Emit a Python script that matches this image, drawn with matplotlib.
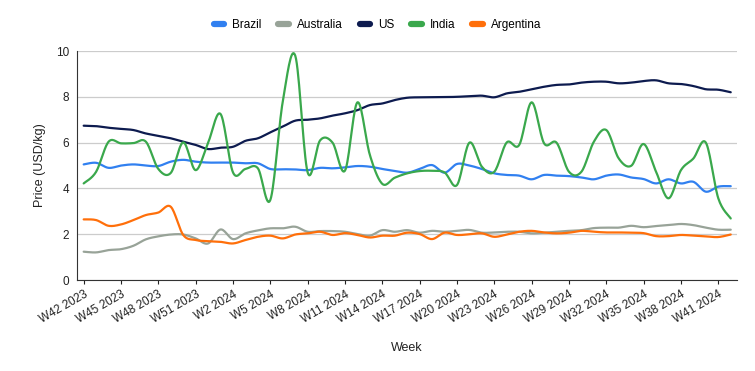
import numpy as np
import matplotlib
matplotlib.use('Agg')
import matplotlib.pyplot as plt
from matplotlib.lines import Line2D

plt.rcParams['font.family'] = ['Liberation Sans', 'DejaVu Sans']

# weekly prices, W42 2023 .. W42 2024
weeks = [f'W{w} 2023' for w in range(42, 53)] + [f'W{w} 2024' for w in range(1, 43)]

brazil = [5.05, 5.12, 4.9, 5.0, 5.05, 5.0, 4.98, 5.17, 5.25, 5.17,
          5.13, 5.13, 5.13, 5.1, 5.1, 4.85, 4.84, 4.83, 4.8, 4.9,
          4.88, 4.92, 4.98, 4.95, 4.85, 4.77, 4.69, 4.85, 5.02, 4.69,
          5.07, 5.0, 4.85, 4.66, 4.59, 4.56, 4.4, 4.59, 4.56, 4.54,
          4.48, 4.4, 4.56, 4.61, 4.48, 4.41, 4.22, 4.4, 4.22, 4.29,
          3.86, 4.08, 4.1]
australia = [1.24, 1.21, 1.31, 1.35, 1.5, 1.78, 1.91, 1.99, 1.99, 1.82,
             1.6, 2.21, 1.79, 2.04, 2.17, 2.26, 2.26, 2.33, 2.11, 2.14,
             2.14, 2.11, 2.01, 1.94, 2.18, 2.11, 2.18, 2.07, 2.15, 2.11,
             2.15, 2.19, 2.07, 2.08, 2.11, 2.11, 2.04, 2.07, 2.11, 2.15,
             2.18, 2.27, 2.29, 2.29, 2.37, 2.31, 2.36, 2.4, 2.45, 2.4,
             2.29, 2.2, 2.2]
us = [6.74, 6.72, 6.65, 6.6, 6.55, 6.4, 6.3, 6.19, 6.04, 5.9,
      5.72, 5.78, 5.82, 6.08, 6.19, 6.45, 6.7, 6.96, 7.0, 7.06,
      7.18, 7.28, 7.42, 7.64, 7.71, 7.86, 7.96, 7.98, 7.99, 7.99,
      8.0, 8.03, 8.05, 7.98, 8.15, 8.22, 8.33, 8.44, 8.52, 8.54,
      8.62, 8.66, 8.66, 8.59, 8.62, 8.69, 8.72, 8.59, 8.56, 8.47,
      8.33, 8.31, 8.2]
india = [4.22, 4.73, 6.04, 5.97, 5.98, 6.04, 4.85, 4.68, 6.01, 4.8,
         6.0, 7.25, 4.7, 4.85, 4.88, 3.5, 7.8, 9.8, 4.7, 6.1,
         6.0, 4.78, 7.76, 5.46, 4.2, 4.47, 4.66, 4.76, 4.77, 4.7,
         4.15, 6.0, 4.95, 4.73, 6.01, 5.9, 7.76, 5.97, 6.0, 4.73,
         4.73, 6.04, 6.55, 5.31, 4.99, 5.94, 4.73, 3.57, 4.8, 5.31,
         6.0, 3.57, 2.69]
argentina = [2.65, 2.62, 2.37, 2.43, 2.62, 2.84, 2.95, 3.2, 1.97, 1.75,
             1.7, 1.67, 1.6, 1.75, 1.89, 1.94, 1.82, 1.99, 2.04, 2.11,
             1.97, 2.05, 1.97, 1.86, 1.94, 1.94, 2.07, 2.01, 1.79, 2.07,
             1.97, 2.0, 2.04, 1.89, 1.99, 2.11, 2.15, 2.08, 2.04, 2.07,
             2.15, 2.11, 2.08, 2.08, 2.07, 2.05, 1.92, 1.92, 1.97, 1.94,
             1.91, 1.88, 1.99]

series = [('Brazil', brazil, '#3180f0'),
          ('Australia', australia, '#98a398'),
          ('US', us, '#0d1b4f'),
          ('India', india, '#3aa84c'),
          ('Argentina', argentina, '#ff6f0a')]


def smooth(x, y, n=16):
    # catmull-rom curve through the points
    x = np.asarray(x, float)
    y = np.asarray(y, float)
    xp = np.concatenate([[x[0]], x, [x[-1]]])
    yp = np.concatenate([[y[0]], y, [y[-1]]])
    t = np.linspace(0, 1, n, endpoint=False)[:, None]
    def seg(p):
        p0, p1, p2, p3 = p[:-3], p[1:-2], p[2:-1], p[3:]
        c = 0.5 * (2 * p1 + (-p0 + p2) * t + (2 * p0 - 5 * p1 + 4 * p2 - p3) * t**2
                   + (-p0 + 3 * p1 - 3 * p2 + p3) * t**3)
        return np.append(c.T.ravel(), p[-2])
    return seg(xp), seg(yp)


x = np.arange(len(weeks))

fig = plt.figure(figsize=(7.55, 3.71), dpi=100)
ax = fig.add_axes([0.1026, 0.245, 0.8735, 0.6175])

for name, vals, col in series:
    sx, sy = smooth(x, vals)
    ax.plot(sx, sy, color=col, lw=1.6, solid_capstyle='round')

ax.set_xlim(-0.5, len(weeks) - 0.5)
ax.set_ylim(0, 10)
ax.set_yticks(np.arange(0, 11, 2))
ax.set_xticks(x[::3])
ax.set_xticklabels(weeks[::3], rotation=30, ha='right', rotation_mode='anchor')
ax.grid(axis='y', color='#cccccc', lw=0.9)
ax.set_axisbelow(True)
for s in ['top', 'right']:
    ax.spines[s].set_visible(False)
ax.spines['left'].set_color('#333333')
ax.spines['bottom'].set_color('#333333')
ax.tick_params(axis='y', length=0, labelsize=8.5, pad=6, colors='#222222')
ax.tick_params(axis='x', length=3, labelsize=8.5, colors='#222222', pad=3)
ax.set_xlabel('Week', fontsize=9, color='#222222', labelpad=12)
ax.set_ylabel('Price (USD/kg)', fontsize=9, color='#222222', labelpad=7)

handles = [Line2D([0], [0], color=col, lw=4.5, solid_capstyle='round') for _, _, col in series]
fig.legend(handles, [s[0] for s in series], loc='center', bbox_to_anchor=(0.5, 0.933),
           ncol=5, frameon=False, fontsize=8.5, handlelength=0.9, handletextpad=0.7,
           columnspacing=1.4)

fig.savefig('out.png', dpi=100)
